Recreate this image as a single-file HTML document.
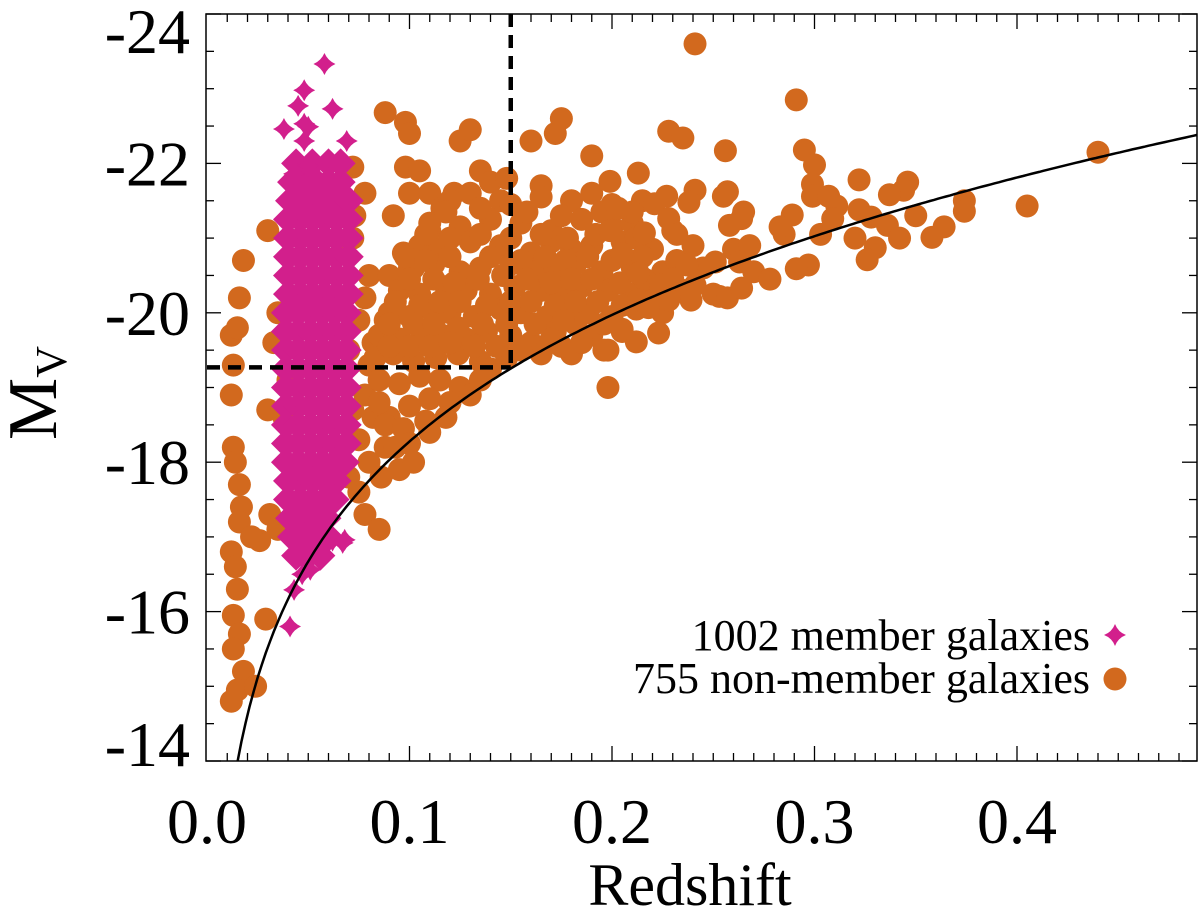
<!DOCTYPE html>
<html><head><meta charset="utf-8">
<style>
html,body{margin:0;padding:0;background:#fff;}
svg{display:block;font-family:"Liberation Serif",serif;}
</style></head>
<body>
<svg id="chart" width="1200" height="919" viewBox="0 0 1200 919" xmlns="http://www.w3.org/2000/svg">
<defs><clipPath id="pc"><rect x="206" y="14" width="991" height="747"/></clipPath></defs>
<g id="marks" clip-path="url(#pc)"></g>
<g id="axes"></g>
</svg>
<script>
const xTicks=[0.0,0.1,0.2,0.3,0.4];
const xTickLabels=["0.0","0.1","0.2","0.3","0.4"];
const yTicks=[-24,-22,-20,-18,-16,-14];
const yTickLabels=["-24","-22","-20","-18","-16","-14"];
const cutZ=0.15;
const cutM=-19.27;
const curveA=-23.07;
const nonMember=[
[0.012,-19.7],[0.013,-19.3],[0.012,-18.9],[0.016,-20.2],[0.018,-20.7],[0.015,-19.8],[0.013,-18.2],[0.014,-18.0],[0.016,-17.7],[0.017,-17.4],[0.016,-17.2],[0.012,-16.8],[0.014,-16.6],[0.015,-16.3],[0.013,-15.95],[0.016,-15.7],[0.013,-15.5],[0.018,-15.2],[0.015,-14.95],[0.012,-14.8],[0.024,-15.0],[0.029,-15.9],[0.026,-16.95],[0.031,-17.3],[0.035,-17.1],[0.03,-18.7],[0.033,-19.6],[0.035,-20.0],[0.03,-21.1],[0.04,-19.1],[0.022,-17.0],[0.038,-18.6],
[0.072,-21.95],[0.078,-21.6],[0.073,-21.3],[0.072,-21.0],[0.08,-20.5],[0.078,-20.2],[0.075,-19.9],[0.082,-19.6],[0.08,-19.3],[0.078,-18.9],[0.082,-18.6],[0.075,-18.3],[0.08,-18.0],[0.075,-17.6],[0.078,-17.3],[0.085,-17.1],[0.07,-17.8],[0.068,-20.8],[0.088,-19.9],[0.09,-18.6],[0.088,-18.2],[0.086,-17.8],[0.072,-18.7],[0.07,-19.5],
[0.088,-22.68],[0.098,-22.55],[0.1,-22.4],[0.098,-21.95],[0.105,-21.9],[0.1,-21.6],[0.092,-21.3],[0.11,-21.6],[0.116,-21.4],[0.122,-21.6],[0.13,-21.6],[0.135,-21.9],[0.125,-22.3],[0.13,-22.45],[0.14,-21.75],[0.145,-21.5],[0.11,-21.1],[0.097,-20.8],[0.102,-20.6],[0.09,-20.5],[0.148,-21.8],[0.16,-22.3],[0.172,-22.4],[0.175,-22.6],[0.19,-22.1],[0.165,-21.7],
[0.12,-21.5],[0.15,-21.45],[0.165,-21.55],[0.18,-21.5],[0.19,-21.6],[0.2,-21.45],[0.215,-21.5],
[0.11,-21.2],[0.125,-21.15],[0.14,-21.25],[0.155,-21.2],[0.17,-21.1],[0.185,-21.25],[0.2,-21.15],[0.21,-21.2],[0.23,-21.1],
[0.105,-20.9],[0.115,-20.85],[0.13,-20.95],[0.145,-20.9],[0.16,-20.8],[0.17,-20.95],[0.18,-20.85],[0.19,-20.9],[0.205,-20.95],[0.22,-20.85],[0.24,-20.9],[0.26,-20.85],
[0.1,-20.6],[0.112,-20.65],[0.125,-20.55],[0.135,-20.6],[0.15,-20.65],[0.162,-20.55],[0.172,-20.6],[0.182,-20.65],[0.195,-20.55],[0.21,-20.6],[0.225,-20.55],[0.245,-20.6],[0.27,-20.55],
[0.095,-20.3],[0.105,-20.25],[0.118,-20.35],[0.128,-20.3],[0.14,-20.25],[0.152,-20.35],[0.165,-20.3],[0.175,-20.25],[0.185,-20.35],[0.198,-20.3],[0.21,-20.25],[0.22,-20.35],[0.235,-20.3],[0.25,-20.25],
[0.09,-20.0],[0.1,-19.95],[0.11,-20.05],[0.12,-20.0],[0.132,-19.95],[0.145,-20.05],[0.155,-20.0],[0.168,-19.95],[0.178,-20.05],[0.188,-20.0],[0.2,-19.95],[0.212,-20.05],[0.225,-20.0],
[0.085,-19.7],[0.095,-19.65],[0.106,-19.75],[0.116,-19.7],[0.128,-19.65],[0.138,-19.75],[0.15,-19.7],[0.16,-19.6],[0.172,-19.75],[0.182,-19.85],[0.19,-19.7],[0.205,-19.75],
[0.083,-19.4],[0.092,-19.45],[0.102,-19.35],[0.113,-19.4],[0.124,-19.45],[0.135,-19.35],[0.148,-19.4],[0.165,-19.45],[0.18,-19.45],[0.198,-19.5],[0.155,-19.5],[0.175,-19.55],
[0.085,-19.1],[0.095,-19.05],[0.105,-19.15],[0.115,-19.1],[0.125,-19.0],[0.135,-19.1],[0.14,-19.25],
[0.085,-18.8],[0.1,-18.75],[0.11,-18.85],[0.12,-18.8],[0.13,-18.9],
[0.088,-18.5],[0.097,-18.45],[0.108,-18.55],[0.118,-18.6],
[0.093,-18.2],[0.1,-18.25],[0.11,-18.4],[0.095,-17.9],[0.102,-18.0],
[0.118,-21.35],[0.135,-21.4],[0.158,-21.35],[0.175,-21.3],[0.195,-21.35],[0.21,-21.35],
[0.108,-21.05],[0.12,-21.0],[0.135,-21.05],[0.15,-21.0],[0.165,-21.05],[0.178,-21.0],[0.192,-21.05],[0.212,-21.0],
[0.098,-20.75],[0.108,-20.7],[0.12,-20.75],[0.14,-20.75],[0.155,-20.7],[0.167,-20.75],[0.177,-20.7],[0.188,-20.75],[0.2,-20.7],[0.215,-20.75],[0.232,-20.7],
[0.1,-20.45],[0.112,-20.45],[0.122,-20.4],[0.134,-20.45],[0.146,-20.5],[0.158,-20.45],[0.17,-20.4],[0.18,-20.45],[0.19,-20.45],[0.204,-20.4],[0.216,-20.45],[0.23,-20.45],
[0.093,-20.15],[0.105,-20.1],[0.115,-20.15],[0.125,-20.15],[0.138,-20.1],[0.15,-20.15],[0.16,-20.15],[0.172,-20.1],[0.182,-20.15],[0.193,-20.15],[0.205,-20.1],[0.218,-20.15],
[0.09,-19.85],[0.102,-19.85],[0.112,-19.85],[0.124,-19.8],[0.136,-19.85],[0.148,-19.85],[0.162,-19.85],[0.176,-19.9],[0.196,-19.85],
[0.09,-19.55],[0.1,-19.55],[0.11,-19.55],[0.12,-19.6],[0.132,-19.55],[0.143,-19.55],[0.17,-19.65],[0.185,-19.6],
[0.228,-22.43],[0.235,-22.34],[0.256,-22.17],[0.241,-23.6],[0.291,-22.85],[0.295,-22.18],[0.3,-21.98],[0.44,-22.15],[0.213,-21.87],[0.199,-21.76],[0.322,-21.78],[0.346,-21.75],[0.344,-21.64],[0.337,-21.58],[0.299,-21.72],[0.299,-21.56],[0.307,-21.56],[0.311,-21.43],[0.322,-21.38],[0.328,-21.28],[0.309,-21.26],[0.336,-21.17],[0.35,-21.3],[0.374,-21.5],[0.374,-21.36],[0.405,-21.43],[0.364,-21.15],[0.358,-21.01],[0.342,-21.0],[0.33,-20.87],[0.326,-20.71],[0.32,-21.0],[0.303,-21.05],[0.297,-20.64],[0.291,-20.59],[0.278,-20.45],[0.285,-21.05],[0.289,-21.31],[0.283,-21.15],[0.265,-21.35],[0.264,-21.26],[0.268,-20.9],[0.257,-21.62],[0.255,-21.56],[0.258,-21.17],[0.263,-20.68],[0.251,-20.68],[0.253,-20.22],[0.257,-20.2],[0.264,-20.33],[0.241,-21.64],[0.238,-21.48],[0.227,-21.56],[0.221,-21.46],[0.228,-21.26],[0.232,-21.05],[0.216,-21.07],[0.199,-21.1],[0.203,-21.4],[0.237,-20.64],[0.241,-20.37],[0.239,-20.17],[0.223,-19.73],[0.212,-19.61],[0.205,-19.78],[0.198,-19.0],[0.196,-19.5],[0.213,-20.53],[0.205,-20.79],[0.213,-20.17],[0.224,-20.37],[0.228,-20.17],[0.218,-20.07]
];
const memberRowsM=[-22.0,-21.75,-21.5,-21.25,-21.0,-20.75,-20.5,-20.25,-20.0,-19.75,-19.5,-19.25,-19.0,-18.75,-18.5,-18.25,-18.0,-17.75,-17.5,-17.25,-17.0,-16.75];
const memberRowsZ=[
[0.044,0.052,0.06,0.066],[0.042,0.048,0.054,0.06,0.066],[0.041,0.047,0.053,0.059,0.065,0.07],[0.04,0.046,0.052,0.058,0.064,0.07],[0.04,0.046,0.052,0.058,0.064,0.07],[0.04,0.046,0.052,0.058,0.064,0.07],[0.04,0.046,0.052,0.058,0.064,0.07],[0.04,0.046,0.052,0.058,0.064,0.07],[0.039,0.045,0.051,0.057,0.063,0.069],[0.039,0.045,0.051,0.057,0.063,0.069],[0.039,0.045,0.051,0.057,0.063,0.069],[0.039,0.045,0.051,0.057,0.063,0.069],[0.039,0.045,0.051,0.057,0.063,0.069],[0.039,0.045,0.051,0.057,0.063,0.069],[0.039,0.045,0.051,0.057,0.063,0.069],[0.039,0.045,0.051,0.057,0.063,0.069],[0.039,0.045,0.051,0.057,0.063,0.068],[0.04,0.046,0.052,0.058,0.064],[0.04,0.046,0.052,0.058,0.063],[0.041,0.047,0.053,0.059],[0.042,0.048,0.054,0.06],[0.044,0.05,0.056]
];
const memberExtra=[[0.058,-23.33],[0.048,-22.98],[0.062,-22.73],[0.045,-22.77],[0.038,-22.46],[0.048,-22.53],[0.05,-22.49],[0.048,-22.3],[0.069,-22.3],[0.05,-21.97],[0.043,-21.86],[0.067,-16.92],[0.062,-16.95],[0.051,-16.56],[0.043,-16.29],[0.041,-15.8],[0.068,-16.96],[0.047,-16.5]];

const X=z=>207+z*2025;
const Y=m=>14+(m+24)*74.7;
const NS="http://www.w3.org/2000/svg";
function mk(tag,attrs,parent){const e=document.createElementNS(NS,tag);for(const k in attrs)e.setAttribute(k,attrs[k]);parent.appendChild(e);return e;}
const marks=document.getElementById('marks');
const axes=document.getElementById('axes');
const ORANGE="#d2691e", MAG="#d21f8c";
function starPath(cx,cy,r,f){const q=r*f;return `M${cx},${cy-r} Q${cx+q},${cy-q} ${cx+r},${cy} Q${cx+q},${cy+q} ${cx},${cy+r} Q${cx-q},${cy+q} ${cx-r},${cy} Q${cx-q},${cy-q} ${cx},${cy-r}Z`;}

nonMember.forEach(p=>{
  const c=mk('circle',{cx:X(p[0]),cy:Y(p[1]),r:11.5,fill:ORANGE},marks);
  
  
});
memberRowsM.forEach((m,i)=>{
  memberRowsZ[i].forEach(z=>{
    const s=mk('path',{d:starPath(X(z),Y(m),15,0.5),fill:MAG},marks);
    
    
  });
});
memberExtra.forEach(p=>{
  const s=mk('path',{d:starPath(X(p[0]),Y(p[1]),11,0.3),fill:MAG},marks);
  
  
});
let d="";
for(let z=0.013;z<=0.49;z+=0.002){const m=curveA-5*Math.log10(z*(1+z));d+=(d?"L":"M")+X(z).toFixed(1)+","+Y(m).toFixed(1);}
const cv=mk('path',{d:d,fill:"none",stroke:"#000","stroke-width":2.5},marks);


const vl=mk('line',{x1:X(cutZ),y1:14,x2:X(cutZ),y2:Y(cutM),stroke:"#000","stroke-width":4.5,"stroke-dasharray":"13,8"},marks);


const hl=mk('line',{x1:207,y1:Y(cutM),x2:X(cutZ),y2:Y(cutM),stroke:"#000","stroke-width":4.5,"stroke-dasharray":"13,8"},marks);



const fr=mk('rect',{x:206,y:14,width:991,height:747,fill:"none",stroke:"#000","stroke-width":1.5},axes);


for(let i=1;i<=48;i++){const z=i*0.01;const x=X(z);const major=(i%10===0);const L=major?15:8;
  mk('line',{x1:x,y1:761,x2:x,y2:761-L,stroke:"#000","stroke-width":1.3},axes);
  mk('line',{x1:x,y1:14,x2:x,y2:14+L,stroke:"#000","stroke-width":1.3},axes);}
xTicks.forEach((t,i)=>{const tx=mk('text',{x:X(t),y:843,"font-size":64,"text-anchor":"middle"},axes);tx.textContent=xTickLabels[i];
  
  });
for(let i=0;i<=20;i++){const m=-24+i*0.5;const y=Y(m);const major=(i%4===0);const L=major?15:8;
  mk('line',{x1:206,y1:y,x2:206+L,y2:y,stroke:"#000","stroke-width":1.3},axes);
  mk('line',{x1:1197,y1:y,x2:1197-L,y2:y,stroke:"#000","stroke-width":1.3},axes);}
yTicks.forEach((t,i)=>{let y=Y(t)+22; if(i===0) y=53; if(i===yTicks.length-1) y=766;
  const tx=mk('text',{x:190,y:y,"font-size":64,"text-anchor":"end"},axes);tx.textContent=yTickLabels[i];
  
  });
</script>
<svg style="position:absolute;left:0;top:0" width="1200" height="919">
<text x="690" y="905" font-size="60" text-anchor="middle" font-family="Liberation Serif, serif">Redshift</text>
<text transform="translate(56,440) rotate(-90)" font-size="70" font-family="Liberation Serif, serif">M<tspan font-size="44" dy="10">V</tspan></text>
<g font-family="Liberation Serif, serif" font-size="44">
<text x="1090" y="650" text-anchor="end">1002 member galaxies</text>
<path d="M1115,624 Q1118,632 1126,635 Q1118,638 1115,646 Q1112,638 1104,635 Q1112,632 1115,624Z" fill="#d21f8c"/>
<text x="1090" y="693" text-anchor="end">755 non-member galaxies</text>
<circle cx="1115" cy="679" r="11.5" fill="#d2691e"/>
</g>
</svg>
</body></html>
